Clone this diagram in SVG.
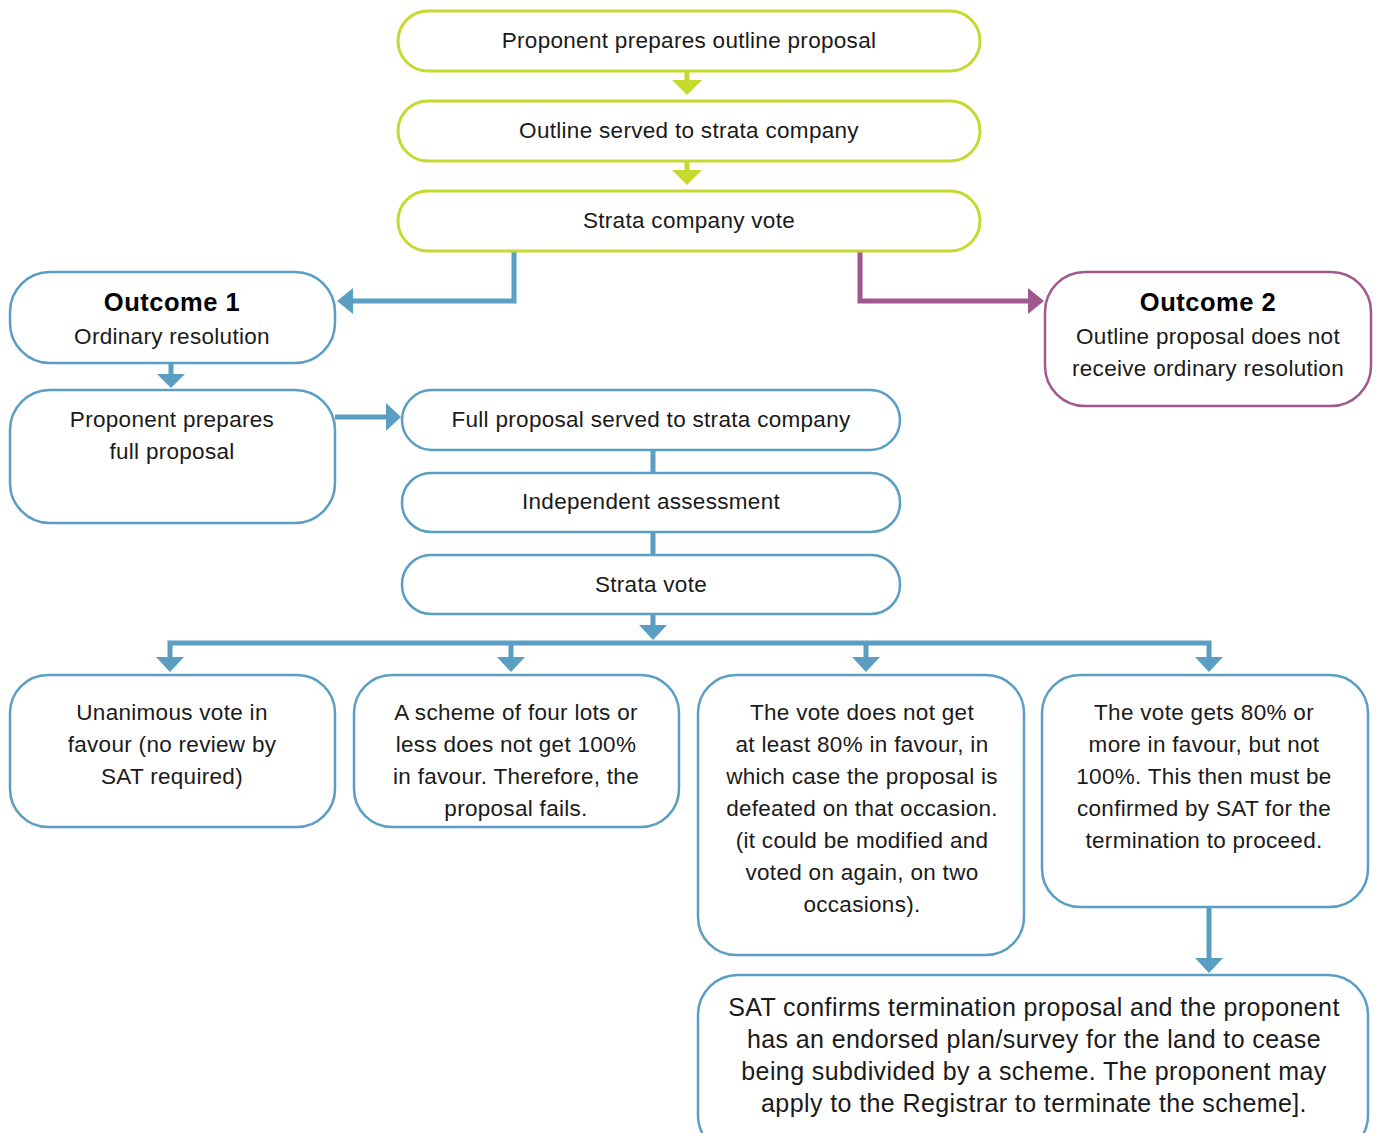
<svg xmlns="http://www.w3.org/2000/svg" width="1377" height="1133" viewBox="0 0 1377 1133">
<style>
.g{fill:#fff;stroke:#c6d92e;stroke-width:3}
.b{fill:#fff;stroke:#5a9ec4;stroke-width:2.5}
.p{fill:#fff;stroke:#a0588e;stroke-width:2.5}
text{font-family:"Liberation Sans",Arial,sans-serif;font-size:22.5px;letter-spacing:0.3px;fill:#1a1a1a;text-anchor:middle}
.h{font-weight:bold;font-size:25.5px;letter-spacing:0.5px;fill:#000}
.big{font-size:25px;letter-spacing:0.4px}
.lb{stroke:#5a9ec4;stroke-width:5;fill:none}
.lp{stroke:#a0588e;stroke-width:5;fill:none}
.lg{stroke:#c6d92e;stroke-width:5;fill:none}
.ab{fill:#5a9ec4}
.ap{fill:#a0588e}
.ag{fill:#c6d92e}
</style>
<rect width="1377" height="1133" fill="#fff"/>
<g id="connectors">
<line class="lg" x1="687" y1="71" x2="687" y2="82"/>
<polygon class="ag" points="672,80 702,80 687,95"/>
<line class="lg" x1="687" y1="161" x2="687" y2="172"/>
<polygon class="ag" points="672,170 702,170 687,185"/>
<polyline class="lb" points="514,251 514,301 350,301"/>
<polygon class="ab" points="353,288 353,314 337,301"/>
<polyline class="lp" points="860,251 860,301 1030,301"/>
<polygon class="ap" points="1028,288 1028,314 1044,301"/>
<line class="lb" x1="171" y1="363" x2="171" y2="376"/>
<polygon class="ab" points="157,374 185,374 171,388"/>
<line class="lb" x1="335" y1="417" x2="390" y2="417"/>
<polygon class="ab" points="386,403 386,431 401,417"/>
<line class="lb" x1="653" y1="450" x2="653" y2="473"/>
<line class="lb" x1="653" y1="532" x2="653" y2="555"/>
<line class="lb" x1="653" y1="614" x2="653" y2="628"/>
<polygon class="ab" points="639,625 667,625 653,640"/>
<polyline class="lb" points="170,659 170,643 1209,643 1209,659"/>
<line class="lb" x1="511" y1="643" x2="511" y2="659"/>
<line class="lb" x1="866" y1="643" x2="866" y2="659"/>
<polygon class="ab" points="156,657 184,657 170,672"/>
<polygon class="ab" points="497,657 525,657 511,672"/>
<polygon class="ab" points="852,657 880,657 866,672"/>
<polygon class="ab" points="1195,657 1223,657 1209,672"/>
<line class="lb" x1="1209" y1="907" x2="1209" y2="960"/>
<polygon class="ab" points="1195,958 1223,958 1209,973"/>
</g>
<g id="n1"><rect class="g" x="398" y="11" width="582" height="60" rx="30"/><text x="689" y="48">Proponent prepares outline proposal</text></g>
<g id="n2"><rect class="g" x="398" y="101" width="582" height="60" rx="30"/><text x="689" y="138">Outline served to strata company</text></g>
<g id="n3"><rect class="g" x="398" y="191" width="582" height="60" rx="30"/><text x="689" y="228">Strata company vote</text></g>
<g id="outcome1"><rect class="b" x="10" y="272" width="325" height="91" rx="40"/><text class="h" x="172" y="311">Outcome 1</text><text x="172" y="344">Ordinary resolution</text></g>
<g id="outcome2"><rect class="p" x="1045" y="272" width="326" height="134" rx="40"/><text class="h" x="1208" y="311">Outcome 2</text><text x="1208" y="344">Outline proposal does not</text><text x="1208" y="376">receive ordinary resolution</text></g>
<g id="full"><rect class="b" x="10" y="390" width="325" height="133" rx="40"/><text x="172" y="427">Proponent prepares</text><text x="172" y="459">full proposal</text></g>
<g id="served"><rect class="b" x="402" y="390" width="498" height="60" rx="30"/><text x="651" y="427">Full proposal served to strata company</text></g>
<g id="assess"><rect class="b" x="402" y="473" width="498" height="59" rx="29"/><text x="651" y="509">Independent assessment</text></g>
<g id="vote"><rect class="b" x="402" y="555" width="498" height="59" rx="29"/><text x="651" y="592">Strata vote</text></g>
<g id="o1"><rect class="b" x="10" y="675" width="325" height="152" rx="38"/><text x="172" y="720">Unanimous vote in</text><text x="172" y="752">favour (no review by</text><text x="172" y="784">SAT required)</text></g>
<g id="o2"><rect class="b" x="354" y="675" width="325" height="152" rx="38"/><text x="516" y="720">A scheme of four lots or</text><text x="516" y="752">less does not get 100%</text><text x="516" y="784">in favour. Therefore, the</text><text x="516" y="816">proposal fails.</text></g>
<g id="o3"><rect class="b" x="698" y="675" width="326" height="280" rx="38"/><text x="862" y="720">The vote does not get</text><text x="862" y="752">at least 80% in favour, in</text><text x="862" y="784">which case the proposal is</text><text x="862" y="816">defeated on that occasion.</text><text x="862" y="848">(it could be modified and</text><text x="862" y="880">voted on again, on two</text><text x="862" y="912">occasions).</text></g>
<g id="o4"><rect class="b" x="1042" y="675" width="326" height="232" rx="38"/><text x="1204" y="720">The vote gets 80% or</text><text x="1204" y="752">more in favour, but not</text><text x="1204" y="784">100%. This then must be</text><text x="1204" y="816">confirmed by SAT for the</text><text x="1204" y="848">termination to proceed.</text></g>
<g id="sat"><rect class="b" x="698" y="975" width="670" height="180" rx="40"/><text class="big" x="1034" y="1016">SAT confirms termination proposal and the proponent</text><text class="big" x="1034" y="1048">has an endorsed plan/survey for the land to cease</text><text class="big" x="1034" y="1080">being subdivided by a scheme. The proponent may</text><text class="big" x="1034" y="1112">apply to the Registrar to terminate the scheme].</text></g>
</svg>
